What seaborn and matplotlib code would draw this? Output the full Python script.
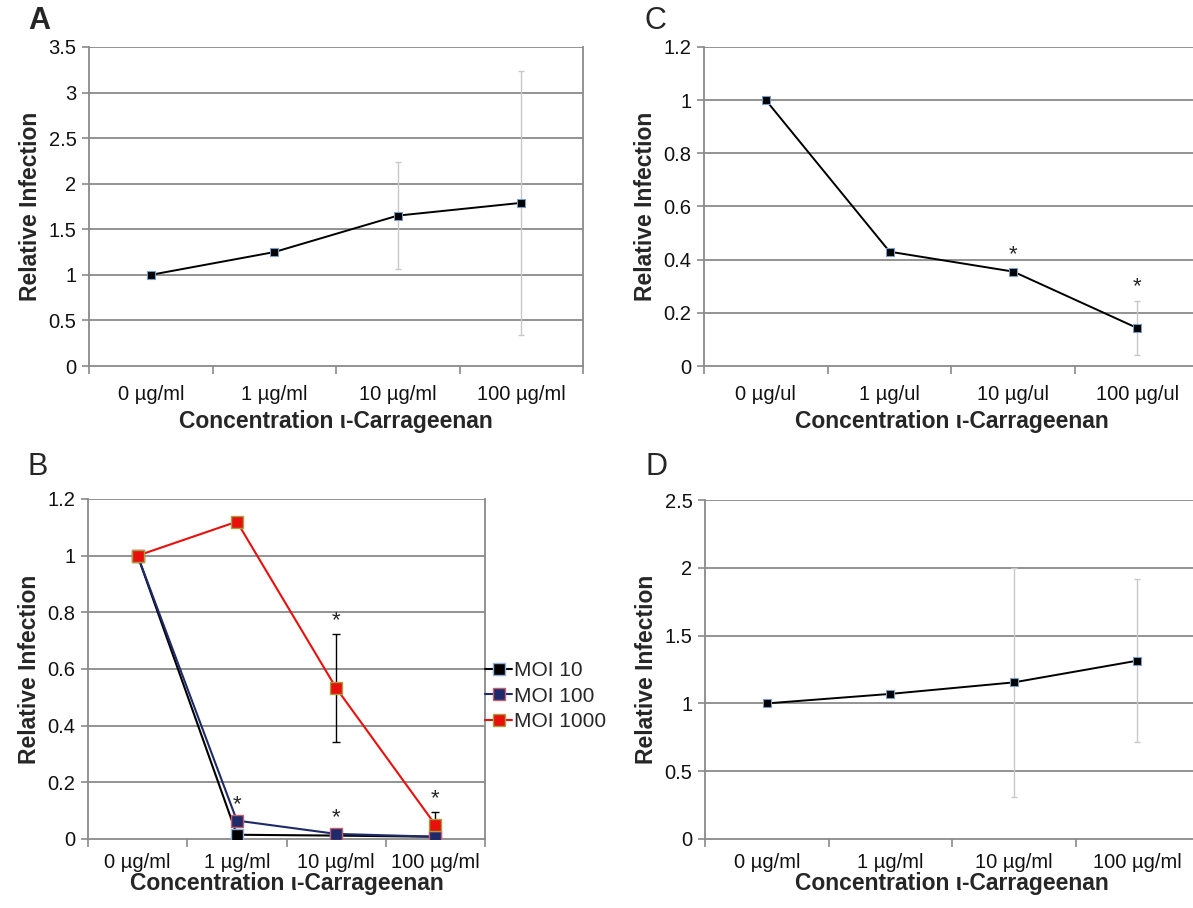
import numpy as np
import pandas as pd
import matplotlib
matplotlib.use("Agg")
import matplotlib.pyplot as plt
import seaborn as sns
from matplotlib.ticker import FixedLocator, FuncFormatter

# ---------------- data ----------------
conc_ml = ["0 µg/ml", "1 µg/ml", "10 µg/ml", "100 µg/ml"]
conc_ul = ["0 µg/ul", "1 µg/ul", "10 µg/ul", "100 µg/ul"]

a_values = [1.0, 1.25, 1.65, 1.79]
a_errors = [0.0, 0.0, 0.59, 1.445]

c_values = [1.0, 0.43, 0.355, 0.143]
c_errors = [0.0, 0.0, 0.008, 0.10]
c_stars = [2, 3]

b_series = ["MOI 10", "MOI 100", "MOI 1000"]
b_moi10 = [1.0, 0.015, 0.012, 0.008]
b_moi100 = [1.0, 0.065, 0.018, 0.008]
b_moi1000 = [1.0, 1.12, 0.533, 0.05]
b_moi1000_err = [0.0, 0.0, 0.19, 0.045]
b_star_low = [1, 2]
b_star_high = [2, 3]

d_values = [1.0, 1.07, 1.155, 1.315]
d_errors = [0.0, 0.0, 0.845, 0.60]

y_label = "Relative Infection"
x_label = "Concentration ι-Carrageenan"

# ---------------- style ----------------
sns.set_theme(style="white")
plt.rcParams["font.family"] = ["Liberation Sans", "DejaVu Sans"]

W, H = 1193, 908
fig = plt.figure(figsize=(W / 100, H / 100), dpi=100)

def frac_axes(l, r, t, b):
    return fig.add_axes([l / W, 1 - b / H, (r - l) / W, (b - t) / H])

GRID = "#8a8a8a"
TICKFS = 14.5
LABFS = 16.5
STARFS = 16

def style_axes(ax, ymax, ystep, cats, right_spine=True):
    ax.set_xlim(-0.5, 3.5)
    ax.set_ylim(0, ymax)
    yt = np.round(np.arange(0, ymax + ystep / 2, ystep), 3)
    ax.yaxis.set_major_locator(FixedLocator(yt))
    ax.yaxis.set_major_formatter(FuncFormatter(lambda v, p: f"{v:g}"))
    for y in yt[1:]:
        ax.axhline(y, color=GRID, lw=1.3, zorder=0)
    ax.set_xticks(range(len(cats)))
    ax.set_xticklabels(cats)
    ax.xaxis.set_minor_locator(FixedLocator(np.arange(-0.5, 3.6, 1.0)))
    ax.tick_params(axis="x", which="major", length=0, pad=14, labelsize=TICKFS, colors="#111111")
    ax.tick_params(axis="x", which="minor", length=6, width=1.2, color=GRID, direction="out", bottom=True)
    ax.tick_params(axis="y", which="major", length=5, width=1.2, color=GRID, direction="out",
                   left=True, labelsize=TICKFS, pad=4, labelcolor="#111111")
    for s in ["left", "bottom"]:
        ax.spines[s].set_color(GRID)
        ax.spines[s].set_linewidth(1.3)
    ax.spines["top"].set_visible(False)
    ax.spines["right"].set_visible(right_spine)
    ax.spines["right"].set_color(GRID)
    ax.spines["right"].set_linewidth(1.3)
    ax.set_xlabel(x_label, fontsize=LABFS, fontweight="bold", labelpad=4)
    ax.set_ylabel(y_label, fontsize=LABFS, fontweight="bold", labelpad=5)
    ax.grid(False)
    ax.set_facecolor("white")


def single_panel(ax, cats, values, errors, ecolor):
    df = pd.DataFrame({"pos": np.arange(len(cats)), "val": values})
    ax.errorbar(df["pos"], df["val"], yerr=errors, fmt="none", ecolor=ecolor,
                elinewidth=1.0, capsize=2.5, capthick=1.0, zorder=2)
    sns.lineplot(data=df, x="pos", y="val", ax=ax, color="black", lw=1.4,
                 marker="s", markersize=6, markeredgecolor="#7a9cc8",
                 markeredgewidth=0.8, zorder=3, legend=False)


# ---------- Panel A ----------
axA = frac_axes(89, 583, 47, 366)
single_panel(axA, conc_ml, a_values, a_errors, "#c8c8c8")
style_axes(axA, 3.5, 0.5, conc_ml)
fig.text(28 / W, 1 - 21 / H, "A", fontsize=22, fontweight="bold", va="center", ha="left")

# ---------- Panel C ----------
axC = frac_axes(704, 1199, 47, 366)
single_panel(axC, conc_ul, c_values, c_errors, "#c8c8c8")
style_axes(axC, 1.2, 0.2, conc_ul, right_spine=False)
for i in c_stars:
    axC.text(i, c_values[i] + c_errors[i] + 0.015, "*", ha="center", va="bottom", fontsize=STARFS)
fig.text(645 / W, 1 - 21 / H, "C", fontsize=22, va="center", ha="left")

# ---------- Panel B ----------
axB = frac_axes(88, 485, 499, 839)
dfB = pd.DataFrame({
    "pos": np.tile(np.arange(4), 3),
    "val": b_moi10 + b_moi100 + b_moi1000,
    "series": np.repeat(b_series, 4),
})
palette = {"MOI 10": "#000000", "MOI 100": "#1f2a6b", "MOI 1000": "#e8100c"}
edges = {"MOI 10": "#8fb0da", "MOI 100": "#c06070", "MOI 1000": "#a8a040"}
axB.errorbar(np.arange(4), b_moi1000, yerr=b_moi1000_err, fmt="none", ecolor="black",
             elinewidth=1.0, capsize=3, capthick=1.0, zorder=2)
for name in b_series:
    sub = dfB[dfB["series"] == name]
    sns.lineplot(data=sub, x="pos", y="val", ax=axB, color=palette[name], lw=1.5,
                 marker="s", markersize=8, markeredgecolor=edges[name],
                 markeredgewidth=1.0, label=name, zorder=3)
style_axes(axB, 1.2, 0.2, conc_ml)
axB.tick_params(axis="x", which="major", pad=10)
axB.set_xlabel(x_label, fontsize=LABFS, fontweight="bold", labelpad=0)
for i in b_star_low:
    axB.text(i, b_moi100[i] + 0.02, "*", ha="center", va="bottom", fontsize=STARFS)
for i in b_star_high:
    axB.text(i, b_moi1000[i] + b_moi1000_err[i] + 0.01, "*", ha="center", va="bottom", fontsize=STARFS)
leg = axB.legend(loc="center left", bbox_to_anchor=(1.0, 0.42), frameon=False,
                 fontsize=15, handlelength=1.3, handletextpad=0.1,
                 labelspacing=0.3, borderpad=0, borderaxespad=0)
fig.text(28 / W, 1 - 467 / H, "B", fontsize=22, va="center", ha="left")

# ---------- Panel D ----------
axD = frac_axes(705, 1199, 500, 839)
single_panel(axD, conc_ml, d_values, d_errors, "#c8c8c8")
style_axes(axD, 2.5, 0.5, conc_ml, right_spine=False)
axD.tick_params(axis="x", which="major", pad=10)
axD.set_xlabel(x_label, fontsize=LABFS, fontweight="bold", labelpad=0)
fig.text(645 / W, 1 - 467 / H, "D", fontsize=22, va="center", ha="left")

fig.savefig("out.png", dpi=100, facecolor="white")
